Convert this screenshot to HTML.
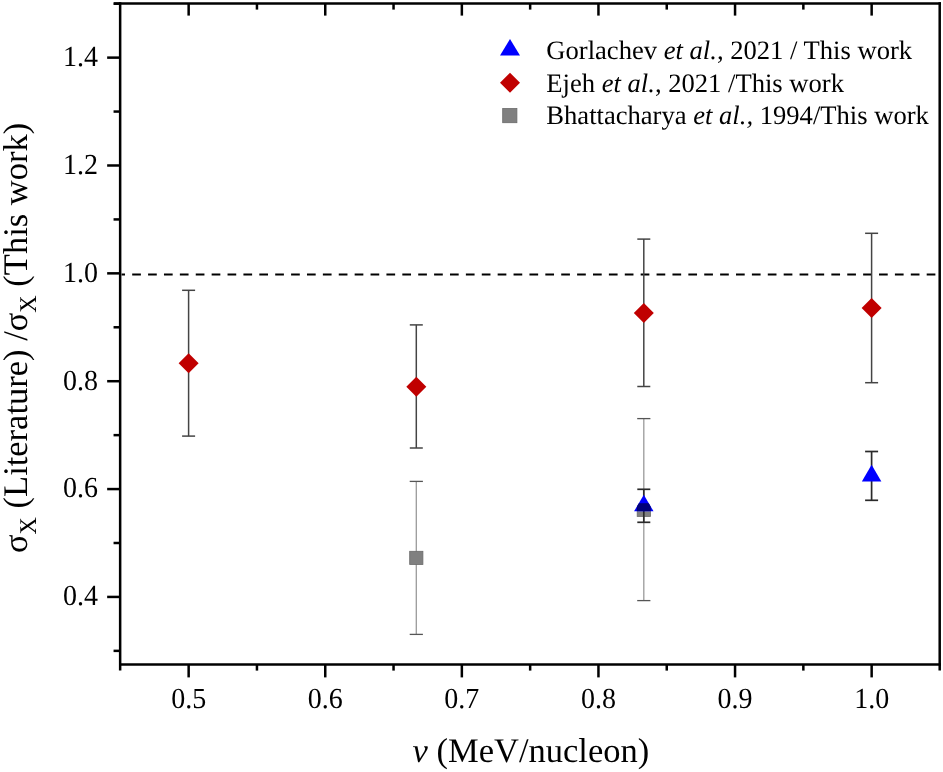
<!DOCTYPE html>
<html><head><meta charset="utf-8"><style>
html,body{margin:0;padding:0;background:#fff;}
body{width:943px;height:772px;overflow:hidden;}
svg{display:block;}
text{filter:grayscale(1);}
text{font-family:"Liberation Serif",serif;fill:#000;text-rendering:geometricPrecision;}
.tl{font-size:28px;}
.lg{font-size:26.6px;}
.al{font-size:34.5px;}
</style></head><body>
<svg width="943" height="772" viewBox="0 0 943 772">
<line x1="120.15" y1="2.3" x2="120.15" y2="670.6" stroke="#000" stroke-width="2.5"/>
<line x1="113.8" y1="3.6" x2="941" y2="3.6" stroke="#000" stroke-width="2.5"/>
<line x1="939.7" y1="2.3" x2="939.7" y2="670.6" stroke="#000" stroke-width="2.5"/>
<line x1="119.1" y1="664.4" x2="941" y2="664.4" stroke="#000" stroke-width="2.5"/>
<line x1="188.65" y1="664.4" x2="188.65" y2="677.40" stroke="#000" stroke-width="2.5"/>
<line x1="188.65" y1="3.6" x2="188.65" y2="15.60" stroke="#000" stroke-width="2.5"/>
<text transform="translate(188.65,708.1) scale(1,1.04)" text-anchor="middle" class="tl">0.5</text>
<line x1="256.95" y1="664.4" x2="256.95" y2="670.60" stroke="#000" stroke-width="2.5"/>
<line x1="256.95" y1="3.6" x2="256.95" y2="9.60" stroke="#000" stroke-width="2.5"/>
<line x1="325.25" y1="664.4" x2="325.25" y2="677.40" stroke="#000" stroke-width="2.5"/>
<line x1="325.25" y1="3.6" x2="325.25" y2="15.60" stroke="#000" stroke-width="2.5"/>
<text transform="translate(325.25,708.1) scale(1,1.04)" text-anchor="middle" class="tl">0.6</text>
<line x1="393.55" y1="664.4" x2="393.55" y2="670.60" stroke="#000" stroke-width="2.5"/>
<line x1="393.55" y1="3.6" x2="393.55" y2="9.60" stroke="#000" stroke-width="2.5"/>
<line x1="461.85" y1="664.4" x2="461.85" y2="677.40" stroke="#000" stroke-width="2.5"/>
<line x1="461.85" y1="3.6" x2="461.85" y2="15.60" stroke="#000" stroke-width="2.5"/>
<text transform="translate(461.85,708.1) scale(1,1.04)" text-anchor="middle" class="tl">0.7</text>
<line x1="530.15" y1="664.4" x2="530.15" y2="670.60" stroke="#000" stroke-width="2.5"/>
<line x1="530.15" y1="3.6" x2="530.15" y2="9.60" stroke="#000" stroke-width="2.5"/>
<line x1="598.45" y1="664.4" x2="598.45" y2="677.40" stroke="#000" stroke-width="2.5"/>
<line x1="598.45" y1="3.6" x2="598.45" y2="15.60" stroke="#000" stroke-width="2.5"/>
<text transform="translate(598.45,708.1) scale(1,1.04)" text-anchor="middle" class="tl">0.8</text>
<line x1="666.75" y1="664.4" x2="666.75" y2="670.60" stroke="#000" stroke-width="2.5"/>
<line x1="666.75" y1="3.6" x2="666.75" y2="9.60" stroke="#000" stroke-width="2.5"/>
<line x1="735.05" y1="664.4" x2="735.05" y2="677.40" stroke="#000" stroke-width="2.5"/>
<line x1="735.05" y1="3.6" x2="735.05" y2="15.60" stroke="#000" stroke-width="2.5"/>
<text transform="translate(735.05,708.1) scale(1,1.04)" text-anchor="middle" class="tl">0.9</text>
<line x1="803.35" y1="664.4" x2="803.35" y2="670.60" stroke="#000" stroke-width="2.5"/>
<line x1="803.35" y1="3.6" x2="803.35" y2="9.60" stroke="#000" stroke-width="2.5"/>
<line x1="871.65" y1="664.4" x2="871.65" y2="677.40" stroke="#000" stroke-width="2.5"/>
<line x1="871.65" y1="3.6" x2="871.65" y2="15.60" stroke="#000" stroke-width="2.5"/>
<text transform="translate(871.65,708.1) scale(1,1.04)" text-anchor="middle" class="tl">1.0</text>
<line x1="120.15" y1="650.86" x2="113.55" y2="650.86" stroke="#000" stroke-width="2.5"/>
<line x1="120.15" y1="596.93" x2="107.15" y2="596.93" stroke="#000" stroke-width="2.5"/>
<text transform="translate(98.0,605.33) scale(1,1.04)" text-anchor="end" class="tl">0.4</text>
<line x1="120.15" y1="543.00" x2="113.55" y2="543.00" stroke="#000" stroke-width="2.5"/>
<line x1="120.15" y1="489.07" x2="107.15" y2="489.07" stroke="#000" stroke-width="2.5"/>
<text transform="translate(98.0,497.47) scale(1,1.04)" text-anchor="end" class="tl">0.6</text>
<line x1="120.15" y1="435.14" x2="113.55" y2="435.14" stroke="#000" stroke-width="2.5"/>
<line x1="120.15" y1="381.21" x2="107.15" y2="381.21" stroke="#000" stroke-width="2.5"/>
<text transform="translate(98.0,389.61) scale(1,1.04)" text-anchor="end" class="tl">0.8</text>
<line x1="120.15" y1="327.28" x2="113.55" y2="327.28" stroke="#000" stroke-width="2.5"/>
<line x1="120.15" y1="273.35" x2="107.15" y2="273.35" stroke="#000" stroke-width="2.5"/>
<text transform="translate(98.0,281.75) scale(1,1.04)" text-anchor="end" class="tl">1.0</text>
<line x1="120.15" y1="219.42" x2="113.55" y2="219.42" stroke="#000" stroke-width="2.5"/>
<line x1="120.15" y1="165.49" x2="107.15" y2="165.49" stroke="#000" stroke-width="2.5"/>
<text transform="translate(98.0,173.89) scale(1,1.04)" text-anchor="end" class="tl">1.2</text>
<line x1="120.15" y1="111.56" x2="113.55" y2="111.56" stroke="#000" stroke-width="2.5"/>
<line x1="120.15" y1="57.63" x2="107.15" y2="57.63" stroke="#000" stroke-width="2.5"/>
<text transform="translate(98.0,66.03) scale(1,1.04)" text-anchor="end" class="tl">1.4</text>
<line x1="120.15" y1="3.70" x2="113.55" y2="3.70" stroke="#000" stroke-width="2.5"/>
<line x1="121.6" y1="274.6" x2="938.4" y2="274.6" stroke="#000" stroke-width="2" stroke-dasharray="8.7 7.19" stroke-dashoffset="5.3"/>
<line x1="416.3" y1="481.40" x2="416.3" y2="634.40" stroke="#9a9a9a" stroke-width="1.3"/><line x1="409.70" y1="481.40" x2="422.90" y2="481.40" stroke="#555" stroke-width="1.3"/><line x1="409.70" y1="634.40" x2="422.90" y2="634.40" stroke="#555" stroke-width="1.3"/>
<line x1="643.8" y1="418.60" x2="643.8" y2="600.60" stroke="#9a9a9a" stroke-width="1.3"/><line x1="637.20" y1="418.60" x2="650.40" y2="418.60" stroke="#555" stroke-width="1.3"/><line x1="637.20" y1="600.60" x2="650.40" y2="600.60" stroke="#555" stroke-width="1.3"/>
<rect x="409.70" y="551.30" width="13.2" height="13.2" fill="#808080" stroke="#6a6a6a" stroke-width="0.8"/>
<clipPath id="cb"><rect x="600" y="511.3" width="100" height="20"/></clipPath>
<rect x="637.20" y="503.20" width="13.2" height="13.2" fill="#808080" stroke="#6a6a6a" stroke-width="0.8" clip-path="url(#cb)"/>
<line x1="188.6" y1="290.30" x2="188.6" y2="436.10" stroke="#444" stroke-width="1.5"/><line x1="182.10" y1="290.30" x2="195.10" y2="290.30" stroke="#444" stroke-width="1.5"/><line x1="182.10" y1="436.10" x2="195.10" y2="436.10" stroke="#444" stroke-width="1.5"/>
<line x1="416.3" y1="324.90" x2="416.3" y2="448.00" stroke="#444" stroke-width="1.5"/><line x1="409.80" y1="324.90" x2="422.80" y2="324.90" stroke="#444" stroke-width="1.5"/><line x1="409.80" y1="448.00" x2="422.80" y2="448.00" stroke="#444" stroke-width="1.5"/>
<line x1="643.8" y1="239.10" x2="643.8" y2="386.50" stroke="#444" stroke-width="1.5"/><line x1="637.30" y1="239.10" x2="650.30" y2="239.10" stroke="#444" stroke-width="1.5"/><line x1="637.30" y1="386.50" x2="650.30" y2="386.50" stroke="#444" stroke-width="1.5"/>
<line x1="871.6" y1="233.30" x2="871.6" y2="382.70" stroke="#444" stroke-width="1.5"/><line x1="865.10" y1="233.30" x2="878.10" y2="233.30" stroke="#444" stroke-width="1.5"/><line x1="865.10" y1="382.70" x2="878.10" y2="382.70" stroke="#444" stroke-width="1.5"/>
<polygon points="188.6,353.3 198.6,363.3 188.6,373.3 178.6,363.3" fill="#c00000"/>
<polygon points="416.3,376.8 426.3,386.8 416.3,396.8 406.3,386.8" fill="#c00000"/>
<polygon points="643.8,303.1 653.8,313.1 643.8,323.1 633.8,313.1" fill="#c00000"/>
<polygon points="871.6,297.9 881.6,307.9 871.6,317.9 861.6,307.9" fill="#c00000"/>
<line x1="643.8" y1="489.30" x2="643.8" y2="522.30" stroke="#2a2a2a" stroke-width="1.7"/><line x1="637.30" y1="489.30" x2="650.30" y2="489.30" stroke="#2a2a2a" stroke-width="1.7"/><line x1="637.30" y1="522.30" x2="650.30" y2="522.30" stroke="#2a2a2a" stroke-width="1.7"/>
<line x1="871.6" y1="451.50" x2="871.6" y2="500.30" stroke="#2a2a2a" stroke-width="1.7"/><line x1="865.10" y1="451.50" x2="878.10" y2="451.50" stroke="#2a2a2a" stroke-width="1.7"/><line x1="865.10" y1="500.30" x2="878.10" y2="500.30" stroke="#2a2a2a" stroke-width="1.7"/>
<polygon points="643.8,494.67 653.55,511.37 634.05,511.37" fill="#0000ff"/>
<polygon points="871.6,464.77 881.35,481.47 861.85,481.47" fill="#0000ff"/>
<clipPath id="ct"><polygon points="643.8,494.67 653.55,511.37 634.05,511.37"/></clipPath>
<rect x="636.80" y="503.2" width="14" height="14" fill="#00007a" clip-path="url(#ct)"/>
<polygon points="510,39.07 520.00,55.47 500.00,55.47" fill="#0000ff"/>
<polygon points="510,72.8 520,82.8 510,92.8 500,82.8" fill="#c00000"/>
<rect x="502.70" y="108.50" width="14.2" height="14.2" fill="#808080" stroke="#6a6a6a" stroke-width="0.8"/>
<text x="546.3" y="59.1" class="lg">Gorlachev <tspan font-style="italic">et al.</tspan>, 2021 / This work</text>
<text x="546.3" y="91.5" class="lg">Ejeh <tspan font-style="italic">et al.</tspan>, 2021 /This work</text>
<text x="546.3" y="124" class="lg">Bhattacharya <tspan font-style="italic">et al.,</tspan> 1994/This work</text>
<text x="412.6" y="761.6" class="al"><tspan font-style="italic">v</tspan> (MeV/nucleon)</text>
<text transform="translate(27.3,553) rotate(-90)" class="al">σ<tspan font-size="24" dy="9">X</tspan><tspan dy="-9"> (Literature) /σ</tspan><tspan font-size="24" dy="9">X</tspan><tspan dy="-9"> (This work)</tspan></text>
</svg>
</body></html>
